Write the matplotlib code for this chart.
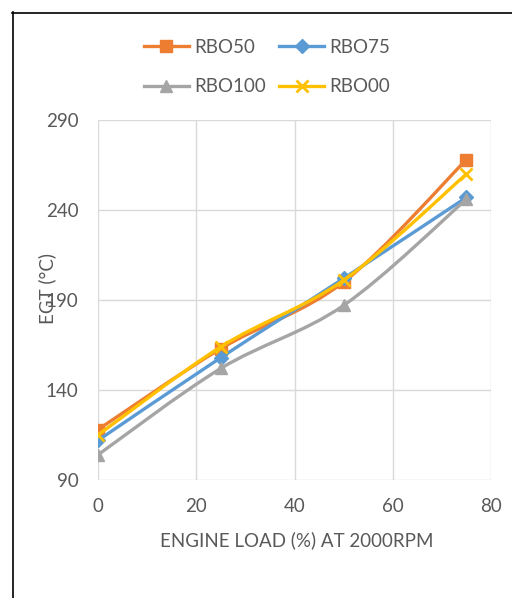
import matplotlib
import matplotlib.pyplot as plt
from matplotlib.path import Path
from matplotlib.patches import PathPatch
from matplotlib.lines import Line2D
matplotlib.use('Agg')

# engine load (%) and exhaust gas temperature (°C) per blend
load_pct = [0, 25, 50, 75]
rbo50 = [118, 163, 200, 268]
rbo75 = [112, 158, 202, 247]
rbo100 = [104, 152, 187, 246]
rbo00 = [115, 164, 201, 260]

y_ticks = [90, 140, 190, 240, 290]
x_ticks = [0, 20, 40, 60, 80]

TEXT = '#595959'
GRID = '#d9d9d9'
FS = 13.5


def smooth_path(xs, ys):
    # Excel-like smoothed line: Catmull-Rom segments as cubic Beziers
    pts = list(zip(xs, ys))
    verts = [pts[0]]
    codes = [Path.MOVETO]
    n = len(pts)
    for i in range(n - 1):
        p0 = pts[i - 1] if i > 0 else pts[i]
        p1 = pts[i]
        p2 = pts[i + 1]
        p3 = pts[i + 2] if i + 2 < n else pts[i + 1]
        c1 = (p1[0] + (p2[0] - p0[0]) / 6, p1[1] + (p2[1] - p0[1]) / 6)
        c2 = (p2[0] - (p3[0] - p1[0]) / 6, p2[1] - (p3[1] - p1[1]) / 6)
        verts += [c1, c2, p2]
        codes += [Path.CURVE4] * 3
    return Path(verts, codes)


def main():
    plt.rcParams['font.family'] = ['Lato', 'DejaVu Sans']
    fig = plt.figure(figsize=(5.12, 5.98), dpi=100)
    ax = fig.add_axes([98 / 512, 1 - 480 / 598, 393 / 512, 360 / 598])

    series = [
        ("RBO50", rbo50, '#ED7D31', 's', 9, 1),
        ("RBO75", rbo75, '#5B9BD5', 'D', 7, 1),
        ("RBO100", rbo100, '#A5A5A5', '^', 9, 1),
        ("RBO00", rbo00, '#FFC000', 'x', 9, 2),
    ]
    handles = {}
    for i, (name, vals, col, mk, ms, mew) in enumerate(series):
        patch = PathPatch(smooth_path(load_pct, vals), facecolor='none',
                          edgecolor=col, lw=2.4, zorder=3 + i,
                          capstyle='round', joinstyle='round')
        ax.add_patch(patch)
        ax.plot(load_pct, vals, linestyle='none', marker=mk, ms=ms,
                color=col, mew=mew, zorder=3 + i)
        handles[name] = Line2D([], [], color=col, lw=2.4, marker=mk,
                               ms=ms, mew=mew)

    ax.set_xlim(0, 80)
    ax.set_ylim(90, 290)
    ax.set_xticks(x_ticks)
    ax.set_yticks(y_ticks)
    ax.grid(True, color=GRID, lw=1)
    ax.set_axisbelow(True)
    for s in ax.spines.values():
        s.set_visible(False)
    ax.tick_params(axis='y', length=0, labelsize=FS, colors=TEXT, pad=14)
    ax.tick_params(axis='x', length=0, labelsize=FS, colors=TEXT, pad=13)

    fig.text(297 / 512, 1 - 540 / 598, "ENGINE LOAD (%) AT 2000RPM",
             fontsize=FS, color=TEXT, ha='center', va='center')
    fig.text(47 / 512, 1 - 289 / 598, "EGT (°C)", rotation=90, fontsize=FS,
             color=TEXT, ha='center', va='center')

    order = ["RBO50", "RBO100", "RBO75", "RBO00"]
    fig.legend([handles[k] for k in order], order, ncol=2,
               loc='center', bbox_to_anchor=(267 / 512, 1 - 67 / 598),
               frameon=False, fontsize=FS, labelcolor=TEXT,
               handlelength=2.4, handletextpad=0.3, columnspacing=0.7,
               labelspacing=1.2)

    # chart frame (only top and left edges fall inside the image)
    fig.add_artist(Line2D([12.5 / 512, 12.5 / 512], [0, 1 - 12 / 598],
                          color='black', lw=1.2))
    fig.add_artist(Line2D([12 / 512, 1], [1 - 12.5 / 598, 1 - 12.5 / 598],
                          color='black', lw=1.2))

    plt.savefig("out.png", dpi=100)


if __name__ == "__main__":
    main()
